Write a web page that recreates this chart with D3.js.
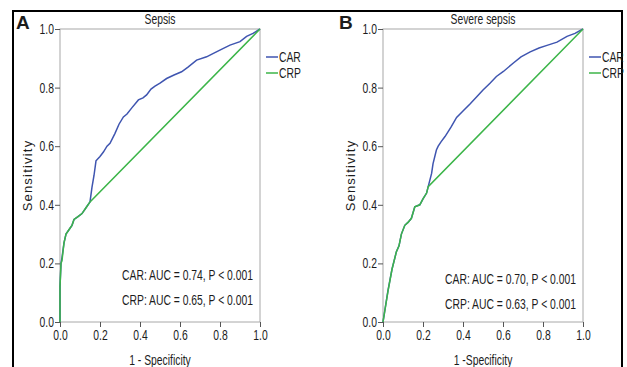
<!DOCTYPE html>
<html>
<head>
<meta charset="utf-8">
<script src="https://cdn.jsdelivr.net/npm/d3@7"></script>
<style>
  body { margin: 0; background: #fff; }
  svg { display: block; }
  text { font-family: "Liberation Sans", Arial, sans-serif; fill: #1c1c1c; }
</style>
</head>
<body>
<svg id="chart" width="627" height="367"></svg>
<script>
// ROC points [1 - specificity, sensitivity]
const sepsisCAR = [[0,0],[0,0.12],[0.005,0.2],[0.01,0.22],[0.02,0.27],[0.03,0.3],[0.05,0.32],[0.06,0.33],[0.07,0.35],[0.09,0.36],[0.11,0.37],[0.13,0.39],[0.15,0.41],[0.16,0.46],[0.17,0.5],[0.18,0.55],[0.2,0.565],[0.217,0.58],[0.235,0.6],[0.25,0.61],[0.275,0.644],[0.295,0.675],[0.317,0.70],[0.335,0.71],[0.358,0.73],[0.392,0.758],[0.415,0.765],[0.433,0.775],[0.455,0.795],[0.475,0.805],[0.5,0.815],[0.533,0.831],[0.57,0.843],[0.608,0.854],[0.64,0.87],[0.683,0.894],[0.733,0.905],[0.767,0.917],[0.817,0.934],[0.85,0.945],[0.9,0.957],[0.933,0.975],[0.965,0.985],[1,1]];
const sepsisCRP = [[0,0],[0,0.12],[0.005,0.2],[0.01,0.21],[0.02,0.27],[0.03,0.3],[0.05,0.32],[0.06,0.33],[0.07,0.35],[0.09,0.36],[0.11,0.37],[0.13,0.39],[0.15,0.41],[1,1]];
const severeCAR = [[0,0],[0.025,0.108],[0.045,0.18],[0.067,0.24],[0.08,0.26],[0.092,0.3],[0.109,0.33],[0.125,0.34],[0.142,0.354],[0.159,0.393],[0.184,0.4],[0.2,0.42],[0.218,0.44],[0.226,0.462],[0.243,0.507],[0.25,0.54],[0.267,0.587],[0.276,0.6],[0.29,0.615],[0.31,0.633],[0.34,0.665],[0.368,0.698],[0.4,0.72],[0.435,0.744],[0.47,0.77],[0.5,0.792],[0.535,0.815],[0.567,0.838],[0.602,0.855],[0.652,0.884],[0.69,0.905],[0.736,0.922],[0.78,0.935],[0.82,0.944],[0.87,0.955],[0.92,0.975],[0.96,0.985],[1,1]];
const severeCRP = [[0,0],[0.025,0.105],[0.045,0.18],[0.067,0.24],[0.08,0.26],[0.092,0.3],[0.109,0.33],[0.125,0.34],[0.142,0.354],[0.159,0.393],[0.184,0.4],[0.2,0.42],[0.218,0.44],[0.226,0.462],[1,1]];

const tickValues = [0, 0.2, 0.4, 0.6, 0.8, 1.0];
const seriesNames = ["CAR", "CRP"];
const seriesColors = ["#3f55b0", "#3cb549"];

const panels = [
  { letter: "A", title: "Sepsis", xLabel: "1 - Specificity", left: 60, right: 260,
    curves: [sepsisCAR, sepsisCRP],
    notes: ["CAR: AUC = 0.74, P < 0.001", "CRP: AUC = 0.65, P < 0.001"], noteY: [280, 305] },
  { letter: "B", title: "Severe sepsis", xLabel: "1 -Specificity", left: 383, right: 583,
    curves: [severeCAR, severeCRP],
    notes: ["CAR: AUC = 0.70, P < 0.001", "CRP: AUC = 0.63, P < 0.001"], noteY: [284, 309] }
];

const narrow = 0.74; // the original uses a condensed face
const fs = 14;
const svg = d3.select("#chart");
const plotTop = 29, plotBottom = 322;

function narrowText(parent, x, y, str, size, anchor) {
  return parent.append("text")
    .attr("transform", "translate(" + x + "," + y + ") scale(" + narrow + ",1)")
    .attr("text-anchor", anchor || "start")
    .style("font-size", size + "px")
    .text(str);
}

// outer frame (no bottom edge visible)
svg.append("path")
  .attr("d", "M13,368 L13,11 L622,11 L622,368")
  .attr("fill", "none").attr("stroke", "#000").attr("stroke-width", 2);

panels.forEach(function (p) {
  const x = d3.scaleLinear().domain([0, 1]).range([p.left, p.right]);
  const y = d3.scaleLinear().domain([0, 1]).range([plotBottom, plotTop]);
  const g = svg.append("g");

  // plot frame
  g.append("rect")
    .attr("x", x(0)).attr("y", y(1))
    .attr("width", x(1) - x(0)).attr("height", y(0) - y(1))
    .attr("fill", "none").attr("stroke", "#a8a8a8").attr("stroke-width", 1);

  const xAxis = g.append("g")
    .attr("transform", "translate(0," + y(0) + ")")
    .call(d3.axisBottom(x).tickValues(tickValues).tickFormat(d3.format(".1f")).tickSize(5).tickPadding(3));
  const yAxis = g.append("g")
    .attr("transform", "translate(" + x(0) + ",0)")
    .call(d3.axisLeft(y).tickValues(tickValues).tickFormat(d3.format(".1f")).tickSize(5).tickPadding(1));
  [xAxis, yAxis].forEach(function (a) {
    a.select(".domain").remove();
    a.selectAll(".tick line").attr("stroke", "#555");
    a.selectAll(".tick text")
      .style("font-size", fs + "px").style("font-family", "Liberation Sans, Arial, sans-serif")
      .attr("fill", "#1c1c1c")
      .each(function () {
        const t = d3.select(this);
        const tx = +t.attr("x") || 0;
        t.attr("x", 0).attr("transform", "translate(" + tx + ",0) scale(" + narrow + ",1)");
      });
  });

  const line = d3.line().x(function (d) { return x(d[0]); }).y(function (d) { return y(d[1]); });
  p.curves.forEach(function (c, i) {
    g.append("path").datum(c)
      .attr("d", line)
      .attr("fill", "none")
      .attr("stroke", seriesColors[i])
      .attr("stroke-width", 1.5);
  });

  // title and panel letter
  narrowText(g, (x(0) + x(1)) / 2, 24, p.title, fs, "middle");
  g.append("text").attr("x", p.left - 44).attr("y", 29)
    .style("font-weight", "bold").style("font-size", "19px").attr("fill", "#000").text(p.letter);

  // axis labels
  narrowText(g, (x(0) + x(1)) / 2, 365, p.xLabel, fs, "middle");
  g.append("text")
    .attr("transform", "translate(" + (p.left - 28) + "," + ((plotTop + plotBottom) / 2) + ") rotate(-90)")
    .attr("text-anchor", "middle")
    .style("font-size", "13px").style("letter-spacing", "1.2px").text("Sensitivity");

  // legend
  seriesNames.forEach(function (name, i) {
    const ly = 57 + i * 16;
    g.append("line").attr("x1", x(1) + 6).attr("x2", x(1) + 18)
      .attr("y1", ly).attr("y2", ly)
      .attr("stroke", seriesColors[i]).attr("stroke-width", 1.5);
    narrowText(g, x(1) + 19, ly + 5, name, fs, "start");
  });

  // AUC notes
  p.notes.forEach(function (t, i) {
    narrowText(g, x(1) - 7, p.noteY[i], t, fs, "end");
  });
});
</script>
</body>
</html>
